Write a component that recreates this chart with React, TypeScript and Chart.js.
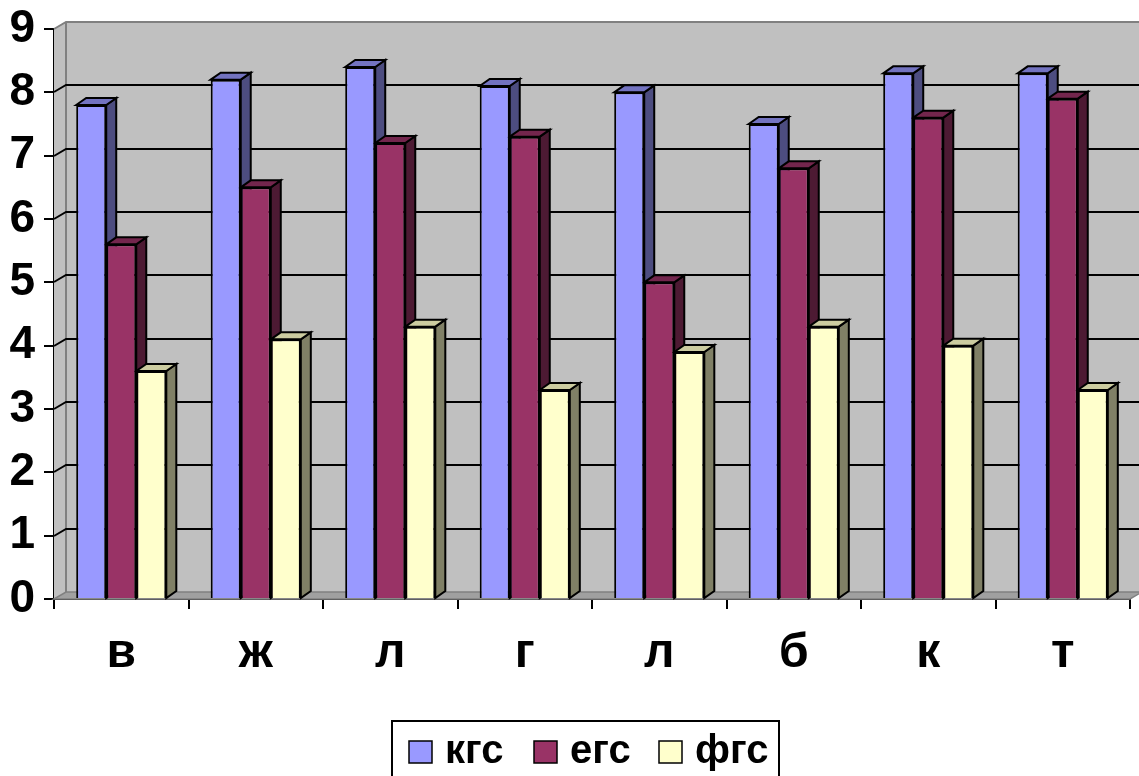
import React, { useEffect, useRef } from "react";
import { Chart, registerables } from "chart.js";

Chart.register(...registerables);

// Categories and series
const categories = ["в", "ж", "л", "г", "л", "б", "к", "т"];
const seriesNames = ["кгс", "егс", "фгс"];
const kgsValues = [7.8, 8.2, 8.4, 8.1, 8.0, 7.5, 8.3, 8.3];
const egsValues = [5.6, 6.5, 7.2, 7.3, 5.0, 6.8, 7.6, 7.9];
const fgsValues = [3.6, 4.1, 4.3, 3.3, 3.9, 4.3, 4.0, 3.3];
const yTicks = [0, 1, 2, 3, 4, 5, 6, 7, 8, 9];

// Face colours: front, top, side
const palette = [
  { front: "#9999FF", top: "#7373C0", side: "#4D4D80" },
  { front: "#993366", top: "#73264D", side: "#4D1A33" },
  { front: "#FFFFCC", top: "#CCCCA0", side: "#808066" },
];

const FONT = "'Liberation Sans', Arial, sans-serif";
const BAR_DX = 10;
const BAR_DY = -7;
const WALL_DX = 12;
const WALL_DY = -7;

const wallPlugin = {
  id: "wall3d",
  beforeDatasetsDraw(chart: any) {
    const { ctx, chartArea, scales } = chart;
    const { left, right, top, bottom } = chartArea;
    const y = scales.y;
    ctx.save();
    // back wall
    ctx.fillStyle = "#C0C0C0";
    ctx.fillRect(left + WALL_DX, top + WALL_DY, right - left + 20, bottom - top);
    // side wall
    ctx.beginPath();
    ctx.moveTo(left, top);
    ctx.lineTo(left + WALL_DX, top + WALL_DY);
    ctx.lineTo(left + WALL_DX, bottom + WALL_DY);
    ctx.lineTo(left, bottom);
    ctx.closePath();
    ctx.fill();
    // floor
    ctx.beginPath();
    ctx.moveTo(left, bottom);
    ctx.lineTo(left + WALL_DX, bottom + WALL_DY);
    ctx.lineTo(right + WALL_DX, bottom + WALL_DY);
    ctx.lineTo(right, bottom);
    ctx.closePath();
    ctx.fillStyle = "#A0A0A0";
    ctx.fill();
    ctx.strokeStyle = "#808080";
    ctx.lineWidth = 1.5;
    ctx.stroke();
    // wall outline
    ctx.beginPath();
    ctx.moveTo(left, top);
    ctx.lineTo(left + WALL_DX, top + WALL_DY);
    ctx.lineTo(right + WALL_DX + 20, top + WALL_DY);
    ctx.moveTo(left + WALL_DX, top + WALL_DY);
    ctx.lineTo(left + WALL_DX, bottom + WALL_DY);
    ctx.strokeStyle = "#808080";
    ctx.lineWidth = 2;
    ctx.stroke();
    // gridlines
    ctx.strokeStyle = "#000000";
    ctx.lineWidth = 2;
    yTicks.forEach((v) => {
      if (v === 0 || v === yTicks[yTicks.length - 1]) return;
      const py = Math.round(y.getPixelForValue(v));
      ctx.beginPath();
      ctx.moveTo(left, py);
      ctx.lineTo(left + WALL_DX, py + WALL_DY);
      ctx.lineTo(right + WALL_DX + 20, py + WALL_DY);
      ctx.stroke();
    });

    // bar top and side faces
    ctx.lineWidth = 2;
    ctx.strokeStyle = "#000000";
    ctx.lineJoin = "miter";
    chart.data.datasets.forEach((_ds: any, di: number) => {
      const meta = chart.getDatasetMeta(di);
      const col = palette[di];
      meta.data.forEach((bar: any) => {
        const { x, y: ty, base, width } = bar.getProps(["x", "y", "base", "width"], true);
        const l = x - width / 2;
        const r = x + width / 2;
        // side
        ctx.beginPath();
        ctx.moveTo(r, ty);
        ctx.lineTo(r + BAR_DX, ty + BAR_DY);
        ctx.lineTo(r + BAR_DX, base + BAR_DY);
        ctx.lineTo(r, base);
        ctx.closePath();
        ctx.fillStyle = col.side;
        ctx.fill();
        ctx.stroke();
        // top
        ctx.beginPath();
        ctx.moveTo(l, ty);
        ctx.lineTo(l + BAR_DX, ty + BAR_DY);
        ctx.lineTo(r + BAR_DX, ty + BAR_DY);
        ctx.lineTo(r, ty);
        ctx.closePath();
        ctx.fillStyle = col.top;
        ctx.fill();
        ctx.stroke();
      });
    });
    ctx.restore();
  },
  afterDraw(chart: any) {
    const { ctx } = chart;
    ctx.save();
    // legend box
    ctx.strokeStyle = "#000000";
    ctx.lineWidth = 2;
    ctx.fillStyle = "#FFFFFF";
    ctx.fillRect(392, 721, 387, 60);
    ctx.strokeRect(392, 721, 387, 60);
    const starts = [409, 534, 659];
    chart.data.datasets.forEach((ds: any, i: number) => {
      const sx = starts[i];
      ctx.fillStyle = ds.backgroundColor;
      ctx.fillRect(sx, 741, 23, 22);
      ctx.lineWidth = 1.5;
      ctx.strokeRect(sx, 741, 23, 22);
      ctx.fillStyle = "#000000";
      ctx.font = `bold 40px ${FONT}`;
      ctx.textAlign = "left";
      ctx.textBaseline = "alphabetic";
      ctx.fillText(ds.label, sx + 36, 763);
    });
    ctx.restore();
  },
};

export default function App() {
  const canvasRef = useRef<HTMLCanvasElement | null>(null);

  useEffect(() => {
    if (!canvasRef.current) return;
    const chart = new Chart(canvasRef.current, {
      type: "bar",
      data: {
        labels: categories,
        datasets: [kgsValues, egsValues, fgsValues].map((vals, i) => ({
          label: seriesNames[i],
          data: vals,
          backgroundColor: palette[i].front,
          borderColor: "#000000",
          borderWidth: 2,
          categoryPercentage: 0.67,
          barPercentage: 1,
        })),
      },
      options: {
        animation: false,
        responsive: false,
        devicePixelRatio: 1,
        layout: { padding: { left: 0, right: 9, top: 29, bottom: 0 } },
        plugins: {
          legend: { display: false },
          tooltip: { enabled: false },
        },
        scales: {
          x: {
            afterFit: (scale: any) => {
              scale.height = 177;
              scale.paddingLeft = 0;
              scale.paddingRight = 0;
            },
            grid: {
              display: true,
              drawOnChartArea: false,
              offset: true,
              tickLength: 10,
              color: "#000000",
              lineWidth: 2,
            },
            border: { display: true, color: "#000000", width: 2 },
            ticks: {
              color: "#000000",
              font: { family: FONT, size: 48, weight: "bold" },
              padding: 16,
              maxRotation: 0,
            },
          },
          y: {
            min: 0,
            max: 9,
            afterFit: (scale: any) => {
              scale.width = 54;
              scale.paddingTop = 0;
              scale.paddingBottom = 0;
            },
            grid: {
              display: true,
              drawOnChartArea: false,
              tickLength: 10,
              color: "#000000",
              lineWidth: 2,
            },
            border: { display: true, color: "#000000", width: 2 },
            ticks: {
              stepSize: 1,
              color: "#000000",
              font: { family: FONT, size: 46, weight: "bold" },
              padding: 9,
            },
          },
        },
      },
      plugins: [wallPlugin],
    });
    return () => chart.destroy();
  }, []);

  return (
    <div
      style={{
        position: "absolute",
        left: 0,
        top: 0,
        width: 1139,
        height: 776,
        background: "#FFFFFF",
        overflow: "hidden",
      }}
    >
      <canvas ref={canvasRef} width={1139} height={776} />
    </div>
  );
}
